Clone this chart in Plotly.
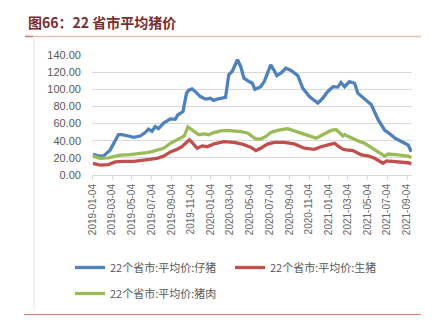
import plotly.graph_objects as go

# ---------------- data ----------------
piglet_dates = ["2019-01-04","2019-01-18","2019-02-05","2019-02-26","2019-03-24","2019-04-03","2019-04-24",
    "2019-05-10","2019-05-30","2019-06-15","2019-06-25","2019-07-06","2019-07-16","2019-07-26","2019-08-11",
    "2019-09-01","2019-09-16","2019-09-24","2019-10-10","2019-10-21","2019-10-28","2019-11-07","2019-11-18",
    "2019-12-03","2019-12-19","2020-01-03","2020-01-12","2020-01-24","2020-02-19","2020-02-29","2020-03-11",
    "2020-03-27","2020-04-06","2020-04-16","2020-05-02","2020-05-12","2020-05-20","2020-06-07","2020-06-18",
    "2020-06-28","2020-07-08","2020-07-17","2020-07-27","2020-08-09","2020-08-24","2020-09-09","2020-09-30",
    "2020-10-15","2020-11-05","2020-11-20","2020-12-01","2020-12-16","2021-01-01","2021-01-17","2021-02-01",
    "2021-02-11","2021-02-22","2021-03-09","2021-03-25","2021-04-04","2021-04-25","2021-05-16","2021-06-06",
    "2021-06-26","2021-07-07","2021-07-28","2021-08-17","2021-09-07","2021-09-17"]
piglet = [24, 22.5, 22, 29, 47, 47, 45.5,
    44, 45.5, 49.5, 53.5, 51, 56.5, 54, 60.5,
    65.5, 65, 70, 74, 95.5, 99, 100.5, 97,
    91.5, 88.5, 89.5, 87, 88.5, 90.5, 117, 121,
    134.5, 126.5, 113, 109, 107, 100, 103, 109,
    119, 128.5, 123, 116, 119, 124.5, 122, 116,
    101.5, 91.5, 87, 84, 89.5, 97.5, 103, 102.5,
    108, 103, 109, 107, 95.5, 88.5, 82, 64.5,
    52.5, 49.5, 43, 39, 35, 27]

hog_dates = ["2019-01-04","2019-01-26","2019-02-21","2019-03-14","2019-04-08","2019-05-10","2019-06-10",
    "2019-07-06","2019-07-21","2019-08-11","2019-09-01","2019-09-22","2019-10-07","2019-10-18","2019-10-30",
    "2019-11-07","2019-11-23","2019-12-09","2019-12-24","2020-01-14","2020-02-14","2020-03-16","2020-04-11",
    "2020-05-07","2020-05-23","2020-06-07","2020-06-28","2020-07-19","2020-08-19","2020-09-19","2020-10-20",
    "2020-11-20","2020-12-11","2021-01-11","2021-01-22","2021-02-01","2021-02-17","2021-02-27","2021-03-20",
    "2021-04-15","2021-05-06","2021-05-26","2021-06-21","2021-07-02","2021-08-07","2021-09-07","2021-09-17"]
hog = [13.5, 11.5, 12.2, 15.3, 16, 16, 17.3,
    18.5, 19.3, 22, 27, 30, 33, 37, 41,
    38, 31.2, 34, 33, 36.3, 39, 38, 36,
    32.5, 28.5, 31.2, 36, 38, 38, 36.3, 31.2,
    30, 33, 36, 37, 34, 30, 29.2, 28.5,
    23.5, 22.2, 19.5, 13.7, 16.5, 15.5, 14.3, 13]

pork_dates = ["2019-01-04","2019-01-26","2019-02-21","2019-03-14","2019-03-29","2019-04-29","2019-05-30",
    "2019-06-20","2019-07-06","2019-07-21","2019-08-11","2019-09-01","2019-09-16","2019-10-02","2019-10-14",
    "2019-10-25","2019-11-04","2019-11-18","2019-11-28","2019-12-14","2019-12-29","2020-01-14","2020-02-04",
    "2020-02-25","2020-03-16","2020-04-06","2020-04-27","2020-05-12","2020-05-23","2020-06-07","2020-06-23",
    "2020-07-08","2020-07-29","2020-08-29","2020-09-19","2020-10-10","2020-11-05","2020-11-26","2020-12-16",
    "2021-01-11","2021-01-27","2021-02-06","2021-02-17","2021-02-22","2021-03-15","2021-04-09","2021-04-25",
    "2021-05-16","2021-06-06","2021-06-26","2021-07-07","2021-08-07","2021-09-07","2021-09-17"]
pork = [22, 19.5, 20, 22, 23.3, 23.7, 24.5,
    26, 27.3, 29.2, 31.2, 37, 40, 43, 45.5,
    56, 53.5, 49, 47, 48, 47, 49.5, 51.5,
    52, 51.5, 50.5, 49, 45.5, 42, 42, 45,
    49.5, 52, 54, 51.5, 49, 45.5, 43, 47,
    52, 53, 49.5, 45.5, 47, 43, 39, 37,
    32.5, 27, 22, 24.5, 23.5, 22, 20.5]

tick_dates = ["2019-01-04","2019-03-04","2019-05-04","2019-07-04","2019-09-04","2019-11-04",
    "2020-01-04","2020-03-04","2020-05-04","2020-07-04","2020-09-04","2020-11-04",
    "2021-01-04","2021-03-04","2021-05-04","2021-07-04","2021-09-04"]
y_ticks = [0, 20, 40, 60, 80, 100, 120, 140]

names = ["22个省市:平均价:仔猪", "22个省市:平均价:生猪", "22个省市:平均价:猪肉"]
colors = ["#4F81BD", "#C0504D", "#9BBB59"]
title = "图66：22 省市平均猪价"

# ---------------- figure ----------------
W, H = 438, 327
L, R, T, B = 92, 412, 55, 175   # plot area in pixels

def px(x):
    return (x - L) / (R - L)

def py(y):
    return (B - y) / (B - T)

fig = go.Figure()
fig.add_trace(go.Scatter(x=piglet_dates, y=piglet, mode="lines", name=names[0],
                         line=dict(color=colors[0], width=3.3), legend="legend"))
fig.add_trace(go.Scatter(x=hog_dates, y=hog, mode="lines", name=names[1],
                         line=dict(color=colors[1], width=3.3), legend="legend"))
fig.add_trace(go.Scatter(x=pork_dates, y=pork, mode="lines", name=names[2],
                         line=dict(color=colors[2], width=3.3), legend="legend2"))

grey = "#595959"
fig.update_layout(
    width=W, height=H,
    margin=dict(l=L, r=W - R, t=T, b=H - B),
    paper_bgcolor="white", plot_bgcolor="white",
    font=dict(family="Liberation Sans, Noto Sans CJK SC", color=grey, size=11),
    showlegend=True,
    legend=dict(orientation="h", x=px(70), y=py(253), xanchor="left", yanchor="top",
                font=dict(family="Noto Sans CJK SC", size=11, color=grey),
                bgcolor="rgba(0,0,0,0)", entrywidth=115, itemwidth=30),
    legend2=dict(orientation="h", x=px(70), y=py(279), xanchor="left", yanchor="top",
                 font=dict(family="Noto Sans CJK SC", size=11, color=grey),
                 bgcolor="rgba(0,0,0,0)", itemwidth=30),
    xaxis=dict(type="date", range=["2019-01-01", "2021-09-19"],
               tickvals=tick_dates, ticktext=tick_dates, tickangle=-90,
               tickfont=dict(size=10, color="#666666", family="Liberation Sans"),
               showgrid=False, showline=True, linecolor="#D9D9D9", linewidth=1,
               ticks="outside", ticklen=4, tickcolor="#D9D9D9", zeroline=False),
    yaxis=dict(range=[0, 140], tickvals=y_ticks, tickformat=".2f",
               tickfont=dict(size=11, color=grey, family="Liberation Sans"),
               showgrid=True, gridcolor="#D9D9D9", gridwidth=1, zeroline=False,
               showline=False, ticklabelstandoff=10),
)

# title text
fig.add_annotation(text=title, xref="paper", yref="paper", x=px(26), y=py(22),
                   xanchor="left", yanchor="middle", showarrow=False,
                   font=dict(family="Noto Sans CJK SC", size=14, color="#7B2E2E", weight="bold"))

# decorative frame lines
fig.add_shape(type="line", xref="paper", yref="paper", x0=px(25), x1=px(421), y0=py(36.5), y1=py(36.5),
              line=dict(color="#E6BFB5", width=1.5))
fig.add_shape(type="line", xref="paper", yref="paper", x0=px(25), x1=px(33), y0=py(36.5), y1=py(36.5),
              line=dict(color="#C98A7A", width=1.5))
fig.add_shape(type="line", xref="paper", yref="paper", x0=px(34), x1=px(34), y0=py(38), y1=py(311),
              line=dict(color="#E3E3E3", width=1))
fig.add_shape(type="line", xref="paper", yref="paper", x0=px(24), x1=px(421), y0=py(314.5), y1=py(314.5),
              line=dict(color="#D9826E", width=1.2))

fig.write_html("out.html")
